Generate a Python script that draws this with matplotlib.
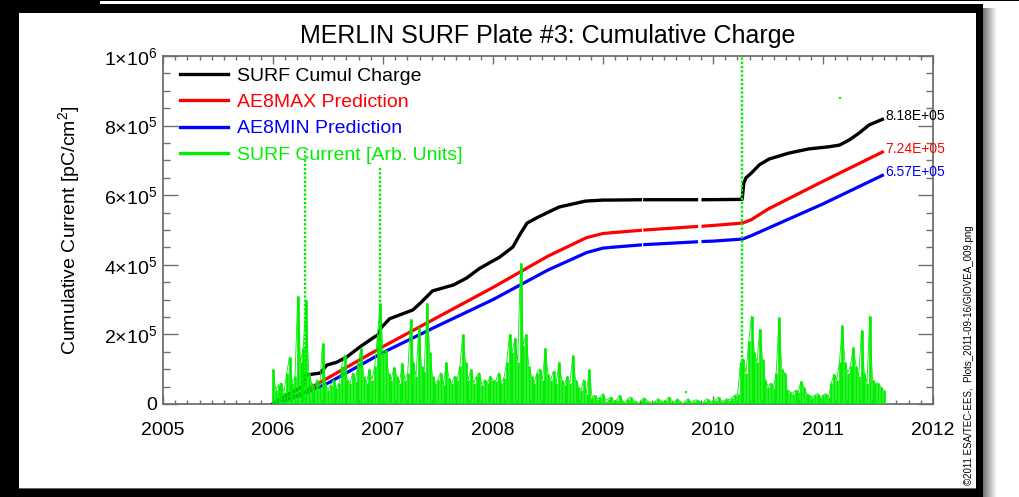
import numpy as np
import matplotlib
matplotlib.use("Agg")
import matplotlib.pyplot as plt
from matplotlib.patches import Rectangle
from matplotlib.lines import Line2D
from matplotlib.ticker import FixedLocator, FixedFormatter, MultipleLocator

plt.rcParams['font.family'] = ['Liberation Sans', 'DejaVu Sans']
plt.rcParams['mathtext.fontset'] = 'custom'
plt.rcParams['mathtext.rm'] = 'Liberation Sans'
plt.rcParams['mathtext.it'] = 'Liberation Sans:italic'
plt.rcParams['mathtext.bf'] = 'Liberation Sans:bold'

# ---------------------------------------------------------------- data
year_ticks = [2005, 2006, 2007, 2008, 2009, 2010, 2011, 2012]
year_labels = ['2005', '2006', '2007', '2008', '2009', '2010', '2011', '2012']
charge_ticks = [0, 2e5, 4e5, 6e5, 8e5, 1e6]
charge_labels = ['0', '2×10$^5$', '4×10$^5$', '6×10$^5$', '8×10$^5$', '1×10$^6$']

nan = float('nan')

# measured cumulative charge, thousands of pC/cm^2 (NaN = data gap)
surf_years = [2006.0, 2006.15, 2006.27, 2006.30, 2006.43, 2006.49, 2006.58, 2006.67,
              2006.79, 2006.91, 2006.96, 2006.98, 2007.06, 2007.27, 2007.34, 2007.45,
              2007.64, 2007.76, 2007.88, 2008.06, 2008.18, 2008.25, 2008.31, 2008.41,
              2008.6, 2008.84, 2009.0, 2009.04, 2009.055, 2009.07, 2009.34, 2009.36,
              2009.38, 2009.85, 2009.88, 2009.91, 2010.265, 2010.28, 2010.30, 2010.35,
              2010.42, 2010.51, 2010.69, 2010.87, 2011.05, 2011.15, 2011.24, 2011.33,
              2011.42, 2011.54]
surf_charge = [0, 30, 50, 83, 89, 112, 120, 135,
               164, 190, 200, 218, 245, 270, 290, 325,
               342, 362, 390, 422, 451, 490, 520, 537,
               566, 583, 586, 586, nan, 586, 587, nan,
               587, 587, nan, 587, 588, 635, 650, 664,
               687, 704, 721, 733, 739, 744, 759, 779,
               802, 818]

# AE8MAX model prediction, thousands of pC/cm^2
ae8max_years = [2006.0, 2006.25, 2006.5, 2007.0, 2007.5, 2008.0, 2008.5, 2008.85,
                2009.0, 2009.04, 2009.055, 2009.07, 2009.34, 2009.36, 2009.38,
                2009.85, 2009.88, 2009.91, 2010.0, 2010.27, 2010.35, 2010.5,
                2011.0, 2011.54]
ae8max_charge = [0, 30, 75, 165, 250, 335, 425, 478,
                 490, 491, nan, 492, 499, nan, 500,
                 510, nan, 511, 513, 520, 530, 560,
                 640, 724]

# AE8MIN model prediction, thousands of pC/cm^2
ae8min_years = [2006.0, 2006.25, 2006.5, 2007.0, 2007.5, 2008.0, 2008.5, 2008.85,
                2009.0, 2009.04, 2009.055, 2009.07, 2009.34, 2009.36, 2009.38,
                2009.85, 2009.88, 2009.91, 2010.0, 2010.27, 2010.35, 2010.5,
                2011.0, 2011.54]
ae8min_charge = [0, 25, 60, 148, 225, 300, 385, 435,
                 448, 449, nan, 450, 457, nan, 458,
                 466, nan, 467, 468, 474, 484, 505,
                 575, 657]

# SURF current (arbitrary units, drawn on the charge scale), one sample every 1/40 yr
current_start = 2006.0
current_step = 0.025
surf_current = [
    100, 40, 55, 60, 35, 90, 135, 60, 80, 310,
    120, 160, 300, 90, 60, 45, 70, 50, 175, 60,
    40, 55, 70, 45, 60, 110, 140, 70, 60, 90,
    65, 120, 160, 80, 60, 100, 70, 110, 200, 290,
    150, 155, 90, 70, 106, 80, 60, 118, 70, 90,
    245, 120, 80, 220, 110, 95, 290, 150, 80, 60,
    70, 90, 55, 120, 75, 60, 80, 70, 110, 200,
    120, 70, 100, 60, 80, 90, 55, 70, 60, 80,
    70, 65, 90, 60, 75, 120, 200, 150, 190, 120,
    405, 170, 200, 110, 80, 60, 90, 100, 70, 160,
    85, 70, 95, 60, 120, 70, 55, 80, 60, 140,
    70, 50, 40, 70, 30, 100, 20, 25, 15, 20,
    30, 10, 15, 20, 8, 12, 25, 10, 5, 15,
    20, 10, 8, 0, 12, 18, 10, 5, 0, 8,
    15, 10, 5, 12, 20, 10, 5, 15, 8, 0,
    10, 15, 5, 10, 12, 8, 0, 10, 15, 5,
    10, 12, 20, 8, 10, 15, 12, 18, 25, 30,
    120, 130, 90, 180, 253, 150, 120, 215, 130, 70,
    50, 60, 45, 90, 250, 100, 90, 40, 35, 30,
    40, 35, 65, 50, 30, 25, 20, 25, 30, 20,
    25, 30, 20, 60, 85, 70, 120, 227, 120, 90,
    110, 164, 110, 80, 213, 90, 60, 253, 70, 60,
    60, 50, 40]

# isolated tall current bursts and stray samples
burst_years = [2006.29, 2006.97, 2010.265]
burst_peaks = [730, 680, 1000]
stray_years = [2009.75, 2011.15]
stray_current = [35, 880]

series_names = ['SURF Cumul Charge', 'AE8MAX Prediction', 'AE8MIN Prediction',
                'SURF Current [Arb. Units]']
series_colors = ['#000000', '#ff0000', '#0000ff', '#00ee00']

# ---------------------------------------------------------------- figure
W, H = 1019, 497
fig = plt.figure(figsize=(W / 100, H / 100), dpi=100)
fig.patch.set_facecolor('white')

# page frame around the plot panel (pixel coordinates)
bg = fig.add_axes([0, 0, 1, 1], zorder=-5)
bg.set_xlim(0, W)
bg.set_ylim(H, 0)
bg.axis('off')
frame = [
    ((0, 0), 983, 12.5, 'black'),
    ((100, 0), 919, 1.3, 'black'),
    ((100, 1.3), 919, 2.4, 'white'),
    ((0, 0), 19.5, H, 'black'),
    ((976, 3.7), 7, H, 'black'),
    ((0, 489), 983, 8, 'black'),
    ((19.5, 487.5), 957, 1.5, '#666666'),
]
for (x0, y0), w, h, c in frame:
    bg.add_patch(Rectangle((x0, y0), w, h, facecolor=c, edgecolor='none'))
shade = np.linspace(0.45, 1.0, 64)[None, :]
bg.imshow(shade, cmap='gray', vmin=0, vmax=1, aspect='auto',
          extent=(983, 997, H, 8), interpolation='bilinear')
bg.set_xlim(0, W)
bg.set_ylim(H, 0)

# main plot panel
ax = fig.add_axes([163 / W, 1 - 404 / H, 770 / W, 348 / H])
ax.patch.set_alpha(0)

scale = 1e3
ax.plot(surf_years, np.array(surf_charge) * scale, color=series_colors[0], lw=2.4, zorder=3)
ax.plot(ae8max_years, np.array(ae8max_charge) * scale, color=series_colors[1], lw=2.3, zorder=3)
ax.plot(ae8min_years, np.array(ae8min_charge) * scale, color=series_colors[2], lw=2.3, zorder=3)

cur = np.array(surf_current, dtype=float) * scale
cur_years = current_start + current_step * np.arange(len(cur))
green = series_colors[3]
ax.vlines(cur_years, 0, cur, colors=green, lw=1.9, zorder=4)
ax.plot(cur_years, cur, color=green, lw=0.6, zorder=4)
ax.vlines(burst_years, 0, np.array(burst_peaks) * scale, colors=green, lw=1.7,
          linestyles=(0, (1.0, 0.8)), zorder=4)
ax.plot(stray_years, np.array(stray_current) * scale, 's', color=green, ms=1.8, mew=0, zorder=4)

# end-point values
for yrs, vals, col in [(surf_years, surf_charge, series_colors[0]),
                       (ae8max_years, ae8max_charge, series_colors[1]),
                       (ae8min_years, ae8min_charge, series_colors[2])]:
    v = vals[-1] * scale
    ax.annotate(f"{v:.2E}", xy=(yrs[-1], v), xytext=(3, 3), textcoords='offset pixels',
                fontsize=10, color=col, ha='left', va='center', zorder=5)

ax.set_xlim(2005, 2012)
ax.set_ylim(0, 1e6)
ax.xaxis.set_major_locator(FixedLocator(year_ticks))
ax.xaxis.set_major_formatter(FixedFormatter(year_labels))
ax.xaxis.set_minor_locator(MultipleLocator(1 / 9))
ax.yaxis.set_major_locator(FixedLocator(charge_ticks))
ax.yaxis.set_major_formatter(FixedFormatter(charge_labels))
ax.yaxis.set_minor_locator(MultipleLocator(5e4))

axis_grey = '#6e6e6e'
for s in ax.spines.values():
    s.set_color(axis_grey)
    s.set_linewidth(1.3)
ax.tick_params(which='both', direction='in', top=True, right=True, colors=axis_grey,
               labelcolor='black', width=1.0, labelsize=14)
ax.tick_params(axis='y', which='major', length=11, pad=4)
ax.tick_params(axis='y', which='minor', length=5.2)
ax.tick_params(axis='x', which='major', length=5.5, pad=13)
ax.tick_params(axis='x', which='minor', length=3.2)

ax.set_ylabel('Cumulative Current [pC/cm$^2$]', fontsize=14)
ax.yaxis.set_label_coords(-0.105, 0.5)

handles = [Line2D([], [], color=c, lw=2.4) for c in series_colors]
leg = ax.legend(handles, series_names, loc='upper left', bbox_to_anchor=(0.022, 0.968),
                frameon=False, fontsize=14, handlelength=2.47, handletextpad=0.46,
                labelspacing=0.45, borderpad=0, borderaxespad=0, labelcolor=series_colors)
leg.set_zorder(6)

fig.text(548 / W, 1 - 36 / H, 'MERLIN SURF Plate #3: Cumulative Charge',
         ha='center', va='center', fontsize=18)
fig.text(969 / W, 1 - 355 / H, '©2011 ESA/TEC-EES,  Plots_2011-09-16/GIOVEA_009.png',
         rotation=90, ha='center', va='center', fontsize=7)

fig.savefig('out.png', dpi=100)
